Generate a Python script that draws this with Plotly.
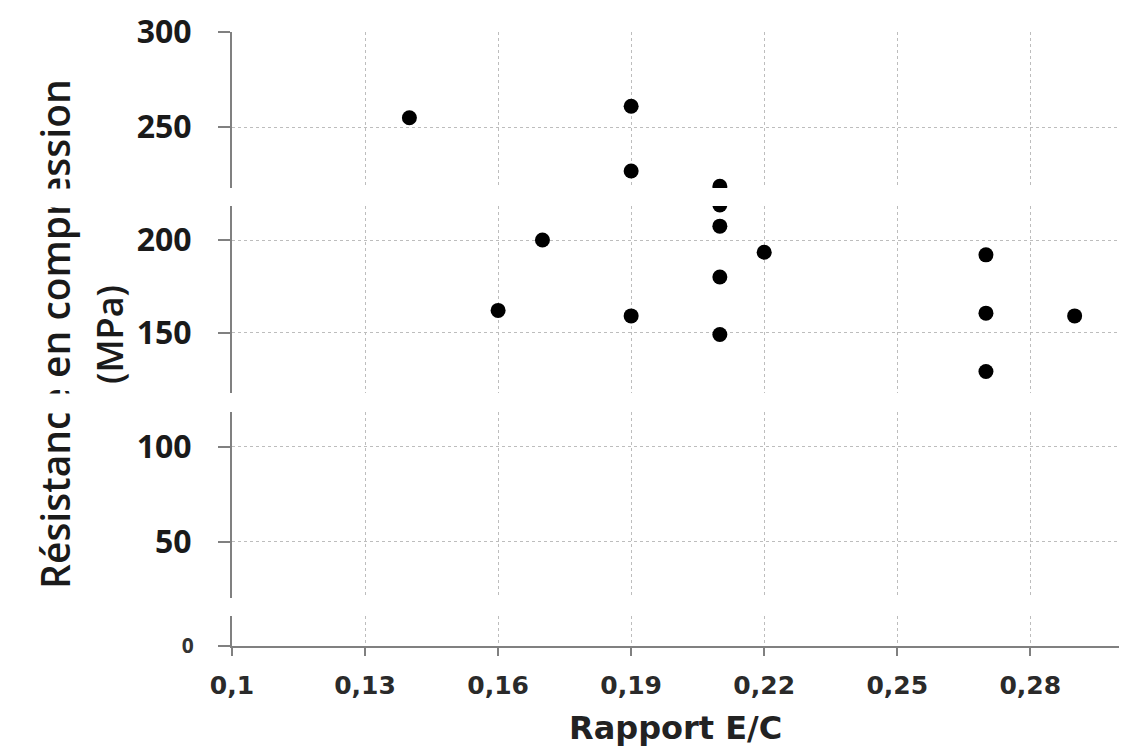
import plotly.graph_objects as go

# ---- data ----
ratio_ec = [0.14, 0.19, 0.19, 0.21, 0.21, 0.17, 0.22, 0.21, 0.27, 0.16, 0.19, 0.21, 0.27, 0.29, 0.27]
resistance = [255, 261, 227, 219, 207.5, 200, 193.4, 180, 192, 162, 159, 149, 160.5, 159, 129]
x_tickvals = [0.1, 0.13, 0.16, 0.19, 0.22, 0.25, 0.28]
x_ticktext = ["0,1", "0,13", "0,16", "0,19", "0,22", "0,25", "0,28"]

# the scanned figure has three white horizontal cuts; the plot is split into four bands
band_ranges = [[218.1, 300], [117.5, 218.4], [20.4, 118.5], [0, 15.8]]
band_domains = [[0.7459, 1.0], [0.4125, 0.7166], [0.0782, 0.3819], [0.0, 0.0489]]

AXIS = "#808080"
GRID = "#bdbdbd"
TXT = "#1a1a1a"

fig = go.Figure()
for i in range(4):
    sfx = "" if i == 0 else str(i + 1)
    fig.add_trace(go.Scatter(
        x=ratio_ec, y=resistance, mode="markers",
        marker=dict(color="black", size=15),
        xaxis="x" + sfx, yaxis="y" + sfx, cliponaxis=True, showlegend=False,
    ))

layout = dict(
    width=1140, height=753,
    paper_bgcolor="white", plot_bgcolor="white",
    margin=dict(l=224, r=29, t=24, b=115),
    showlegend=False,
)
for i in range(4):
    sfx = "" if i == 0 else str(i + 1)
    last = (i == 3)
    xa = dict(
        domain=[0, 1], anchor="y" + sfx, range=[0.1, 0.3], automargin=False,
        tickvals=x_tickvals, ticktext=x_ticktext,
        showgrid=True, gridcolor=GRID, griddash="dot", gridwidth=1,
        zeroline=False,
        showticklabels=last, ticks="outside" if last else "",
        ticklen=8, tickcolor=AXIS, tickwidth=1.5,
        showline=last, linecolor=AXIS, linewidth=2,
        tickfont=dict(family="DejaVu Sans", size=25, color="#2a2a2a", weight=700),
        ticklabelstandoff=8,
    )
    if i > 0:
        xa["matches"] = "x"
    ya = dict(
        domain=band_domains[i], anchor="x" + sfx, range=band_ranges[i], automargin=False,
        tick0=0, dtick=50,
        showgrid=True, gridcolor=GRID, griddash="dot", gridwidth=1,
        zeroline=False,
        showline=True, linecolor=AXIS, linewidth=2,
        ticks="outside", ticklen=12, tickcolor=AXIS, tickwidth=1.5,
        tickfont=dict(family="Open Sans", size=21 if last else 32, color="#333" if last else TXT, weight=700),
        ticklabelstandoff=20,
    )
    layout["xaxis" + sfx] = xa
    layout["yaxis" + sfx] = ya
fig.update_layout(**layout)

def py(pix):
    return (646 - pix) / 614.0

def px(pix):
    return (pix - 232) / 887.0

annotations = [
    dict(text="Rapport E/C", xref="paper", yref="paper", x=0.5, y=py(728),
         xanchor="center", yanchor="middle", showarrow=False,
         font=dict(family="DejaVu Sans", size=32, color="#222", weight=700)),
    dict(text="Résistance en compression", xref="paper", yref="paper",
         x=px(54), y=py(334), xanchor="center", yanchor="middle", textangle=-90,
         showarrow=False, font=dict(family="Open Sans", size=39, color=TXT, weight=600)),
    dict(text="(MPa)", xref="paper", yref="paper",
         x=px(109), y=py(335), xanchor="center", yanchor="middle", textangle=-90,
         showarrow=False, font=dict(family="Open Sans", size=36, color=TXT, weight=600)),
]
# white cuts across the left margin (continuing the gaps between the bands)
for top, bot in [(188, 206), (392.7, 411.5), (598, 616)]:
    annotations.append(dict(
        text=" ", xref="paper", yref="paper", x=px(0), y=py(top),
        xanchor="left", yanchor="top", showarrow=False,
        width=205, height=bot - top, bgcolor="white", borderpad=0,
    ))
fig.update_layout(annotations=annotations)

fig.write_html("out.html")
